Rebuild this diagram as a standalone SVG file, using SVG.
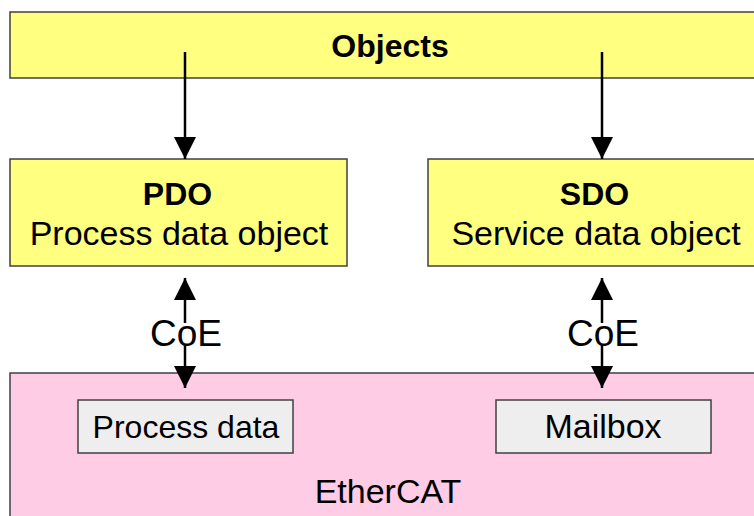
<svg xmlns="http://www.w3.org/2000/svg" width="754" height="516" viewBox="0 0 754 516">
<style>
.y{fill:#ffff80;stroke:#404040;stroke-width:1.5}
.p{fill:#ffcce6;stroke:#404040;stroke-width:1.5}
.g{fill:#eeeeee;stroke:#404040;stroke-width:1.5}
text{font-family:"Liberation Sans",Arial,sans-serif;fill:#000;text-anchor:middle}
.b{font-weight:bold}
.c{stroke:#000;stroke-width:2.5;fill:none}
</style>
<defs>
<marker id="ah" viewBox="0 0 22 22" refX="22" refY="11" markerWidth="22" markerHeight="22" markerUnits="userSpaceOnUse" orient="auto">
<path d="M0,0 L22,11 L0,22 Z" fill="#000"/>
</marker>
</defs>
<g id="objects">
<rect class="y" x="10" y="12" width="760" height="66"/>
<text class="b" x="390" y="57" font-size="32">Objects</text>
</g>
<g id="pdo">
<rect class="y" x="10" y="159" width="337" height="107"/>
<text class="b" x="177.5" y="205" font-size="32">PDO</text>
<text x="179" y="245" font-size="34">Process data object</text>
</g>
<g id="sdo">
<rect class="y" x="428" y="159" width="340" height="107"/>
<text class="b" x="594.5" y="205" font-size="32">SDO</text>
<text x="596" y="245" font-size="34">Service data object</text>
</g>
<g id="ethercat">
<rect class="p" x="10" y="373" width="760" height="150"/>
<text x="388" y="503" font-size="34">EtherCAT</text>
</g>
<g id="processdata">
<rect class="g" x="78" y="400" width="215" height="53"/>
<text x="186" y="438" font-size="32">Process data</text>
</g>
<g id="mailbox">
<rect class="g" x="496" y="400" width="215" height="53"/>
<text x="603" y="438" font-size="34">Mailbox</text>
</g>
<g id="connectors">
<line class="c" x1="185" y1="52" x2="185" y2="159" marker-end="url(#ah)"/>
<line class="c" x1="602" y1="52" x2="602" y2="159" marker-end="url(#ah)"/>
<line class="c" x1="185" y1="323" x2="185" y2="278" marker-end="url(#ah)"/>
<line class="c" x1="185" y1="344" x2="185" y2="388" marker-end="url(#ah)"/>
<line class="c" x1="602" y1="323" x2="602" y2="278" marker-end="url(#ah)"/>
<line class="c" x1="602" y1="344" x2="602" y2="388" marker-end="url(#ah)"/>
</g>
<g id="labels">
<text x="186" y="346" font-size="37">CoE</text>
<text x="603" y="346" font-size="37">CoE</text>
</g>
</svg>
